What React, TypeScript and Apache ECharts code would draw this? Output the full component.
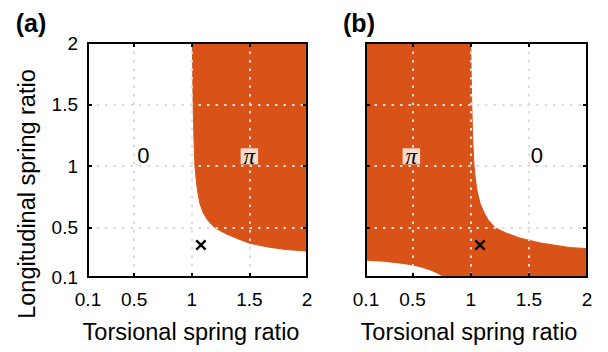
import React, { useEffect, useRef } from "react";
import * as echarts from "echarts";

// ---------- data ----------
const tickValues = [0.1, 0.5, 1, 1.5, 2];
const panelTitles = ["(a)", "(b)"];
const xAxisName = "Torsional spring ratio";
const yAxisName = "Longitudinal spring ratio";

// (a): boundary of the π region (region lies above / right of it)
const aBoundX = [1.005, 1.012, 1.02, 1.028, 1.038, 1.05, 1.07, 1.1, 1.14, 1.2, 1.3, 1.4, 1.5, 1.65, 1.8, 2.0];
const aBoundY = [2.0, 1.5, 1.2, 1.0, 0.9, 0.8, 0.7, 0.62, 0.56, 0.5, 0.45, 0.41, 0.375, 0.345, 0.325, 0.31];

// (b): boundary of the π region (region lies below / left of it)
const bBoundX = [0.1, 1.0, 1.009, 1.018, 1.029, 1.04, 1.055, 1.08, 1.117, 1.15, 1.21, 1.31, 1.42, 1.6, 1.85, 2.0];
const bBoundY = [2.0, 2.0, 1.5, 1.2, 1.0, 0.9, 0.8, 0.7, 0.62, 0.563, 0.5, 0.455, 0.417, 0.376, 0.34, 0.33];

// (b): small "0" pocket at the lower left
const bPocketX = [0.1, 0.25, 0.39, 0.5, 0.58, 0.65, 0.7, 0.74, 0.765];
const bPocketY = [0.228, 0.22, 0.205, 0.19, 0.172, 0.15, 0.13, 0.11, 0.1];

// marker (×)
const markerX = [1.08, 1.08];
const markerY = [0.36, 0.36];

// region labels: [x, y, text] per panel
const aZeroLabel = [0.58, 1.09, "0"];
const aPiLabel = [1.5, 1.08, "π"];
const bPiLabel = [0.49, 1.08, "π"];
const bZeroLabel = [1.57, 1.09, "0"];

// ---------- styles ----------
const ORANGE = "#D95319";
const FONT = '"Liberation Sans", Arial, Helvetica, sans-serif';
const CROSS =
  "path://M0,1.5L1.5,0L5,3.5L8.5,0L10,1.5L6.5,5L10,8.5L8.5,10L5,6.5L1.5,10L0,8.5L3.5,5Z";

const zip = (xs: number[], ys: number[]) => xs.map((x, i) => [x, ys[i]]);

function makeX(gridIndex: number, position: string, main: boolean, namePad: number) {
  return {
    type: "value",
    gridIndex,
    position,
    min: 0.1,
    max: 2,
    z: 3,
    axisLine: { show: true, onZero: false, lineStyle: { color: "#000", width: 2 } },
    axisTick: {
      show: true,
      inside: true,
      length: 4,
      customValues: tickValues,
      lineStyle: { color: "#000", width: 2 },
    },
    axisLabel: {
      show: main,
      customValues: tickValues,
      margin: 13,
      fontSize: 19,
      color: "#000",
      fontFamily: FONT,
    },
    splitLine: {
      show: main,
      showMinLine: false,
      showMaxLine: false,
      lineStyle: { color: "#dcdcdc", width: 2, type: [2.5, 6] },
    },
    name: main ? xAxisName : "",
    nameLocation: "middle",
    nameGap: 43,
    nameTextStyle: {
      fontSize: 23.5,
      color: "#000",
      fontFamily: FONT,
      padding: [0, namePad, 0, 0],
    },
  };
}

function makeY(gridIndex: number, position: string, grid: boolean, labels: boolean) {
  return {
    type: "value",
    gridIndex,
    position,
    min: 0.1,
    max: 2,
    z: 3,
    axisLine: { show: true, onZero: false, lineStyle: { color: "#000", width: 2 } },
    axisTick: {
      show: true,
      inside: true,
      length: 4,
      customValues: tickValues,
      lineStyle: { color: "#000", width: 2 },
    },
    axisLabel: {
      show: labels,
      customValues: tickValues,
      margin: 10,
      fontSize: 19,
      color: "#000",
      fontFamily: FONT,
    },
    splitLine: {
      show: grid,
      showMinLine: false,
      showMaxLine: false,
      lineStyle: { color: "#dcdcdc", width: 2, type: [2.5, 6] },
    },
  };
}

function regionSeries(idx: number, xs: number[], ys: number[], color: string, origin: string) {
  return {
    type: "line",
    xAxisIndex: idx,
    yAxisIndex: idx,
    data: zip(xs, ys),
    symbol: "none",
    showSymbol: false,
    smooth: false,
    z: 2,
    lineStyle: { color, width: 1 },
    areaStyle: { color, opacity: 1, origin },
    silent: true,
  };
}

function markerSeries(idx: number, i: number) {
  return {
    type: "scatter",
    xAxisIndex: idx,
    yAxisIndex: idx,
    data: [[markerX[i], markerY[i]]],
    symbol: CROSS,
    symbolSize: 11,
    itemStyle: { color: "#000", opacity: 1 },
    z: 6,
    silent: true,
  };
}

function labelSeries(idx: number, items: any[]) {
  return {
    type: "scatter",
    xAxisIndex: idx,
    yAxisIndex: idx,
    symbolSize: 1,
    itemStyle: { color: "rgba(0,0,0,0)", opacity: 1 },
    z: 6,
    silent: true,
    data: items.map((it) => {
      const isPi = it[2] === "π";
      return {
        value: [it[0], it[1]],
        label: isPi
          ? {
              show: true,
              position: "inside",
              formatter: it[2],
              fontFamily: '"Liberation Serif", "Times New Roman", serif',
              fontStyle: "italic",
              fontSize: 23,
              color: "#000",
              opacity: 1,
              textBorderWidth: 0,
              backgroundColor: "#F9DCCB",
              padding: [1, 3, 0, 3],
              lineHeight: 15,
            }
          : {
              show: true,
              position: "inside",
              formatter: it[2],
              fontFamily: FONT,
              fontSize: 22,
              color: "#000",
              opacity: 1,
              textBorderWidth: 0,
            },
      };
    }),
  };
}

export default function App() {
  const ref = useRef<HTMLDivElement>(null);

  useEffect(() => {
    if (!ref.current) return;
    const chart = echarts.init(ref.current, null, { renderer: "svg" });
    const titleStyle = {
      fontSize: 25,
      fontWeight: "bold",
      fontFamily: FONT,
      fill: "#000",
      align: "center",
      verticalAlign: "middle",
    };
    const option: any = {
      animation: false,
      backgroundColor: "#fff",
      textStyle: { fontFamily: FONT },
      grid: [
        { left: 88, top: 43, width: 219, height: 234, outerBoundsMode: "none" },
        { left: 366, top: 43, width: 221, height: 234, outerBoundsMode: "none" },
      ],
      xAxis: [
        makeX(0, "bottom", true, 13),
        makeX(0, "top", false, 0),
        makeX(1, "bottom", true, 15),
        makeX(1, "top", false, 0),
      ],
      yAxis: [
        makeY(0, "left", true, true),
        makeY(0, "right", false, false),
        makeY(1, "left", true, false),
        makeY(1, "right", false, false),
      ],
      graphic: [
        { type: "text", x: 31, y: 23, style: { ...titleStyle, text: panelTitles[0] } },
        { type: "text", x: 359, y: 23, style: { ...titleStyle, text: panelTitles[1] } },
        {
          type: "text",
          x: 27,
          y: 194,
          rotation: Math.PI / 2,
          style: {
            text: yAxisName,
            fontSize: 23.5,
            fontFamily: FONT,
            fill: "#000",
            align: "center",
            verticalAlign: "middle",
          },
        },
      ],
      series: [
        regionSeries(0, aBoundX, aBoundY, ORANGE, "end"),
        markerSeries(0, 0),
        labelSeries(0, [aZeroLabel, aPiLabel]),
        regionSeries(2, bBoundX, bBoundY, ORANGE, "start"),
        regionSeries(2, bPocketX, bPocketY, "#ffffff", "start"),
        markerSeries(2, 1),
        labelSeries(2, [bPiLabel, bZeroLabel]),
      ],
    };
    chart.setOption(option);
    return () => chart.dispose();
  }, []);

  return <div ref={ref} style={{ width: 608, height: 352, position: "absolute", left: 0, top: 0 }} />;
}
